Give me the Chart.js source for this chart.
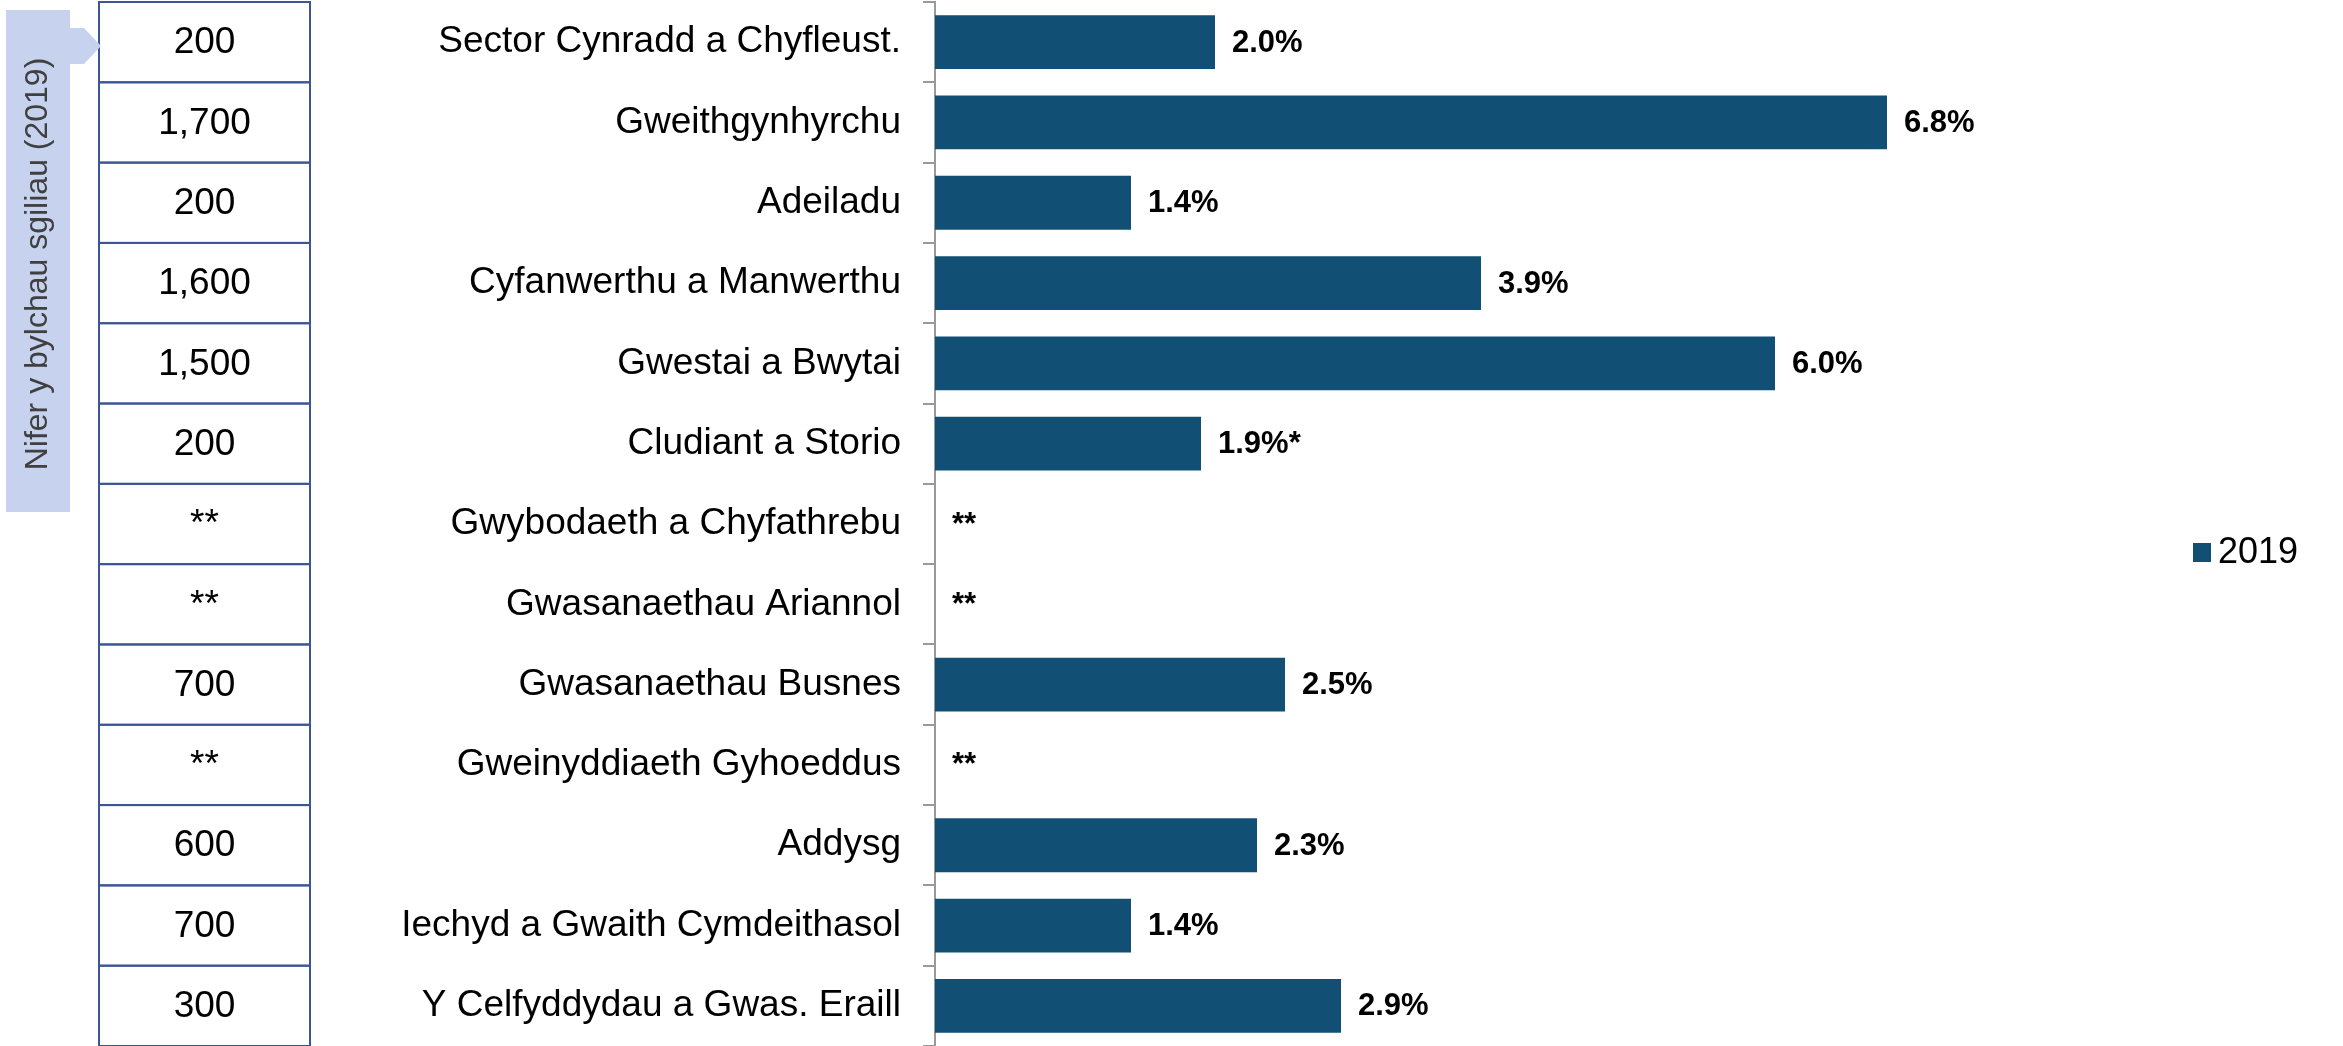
<!DOCTYPE html>
<html>
<head>
<meta charset="utf-8">
<script src="https://cdn.jsdelivr.net/npm/chart.js@4.4.1/dist/chart.umd.min.js"></script>
<style>
  html, body { margin: 0; padding: 0; background: #fff; }
  #wrap { width: 2343px; height: 1046px; position: relative; }
</style>
</head>
<body>
<div id="wrap"><canvas id="chart"></canvas></div>
<script>
const sectors = [
  'Sector Cynradd a Chyfleust.',
  'Gweithgynhyrchu',
  'Adeiladu',
  'Cyfanwerthu a Manwerthu',
  'Gwestai a Bwytai',
  'Cludiant a Storio',
  'Gwybodaeth a Chyfathrebu',
  'Gwasanaethau Ariannol',
  'Gwasanaethau Busnes',
  'Gweinyddiaeth Gyhoeddus',
  'Addysg',
  'Iechyd a Gwaith Cymdeithasol',
  'Y Celfyddydau a Gwas. Eraill'
];
// skills gap density (%), null = suppressed (**)
const gap2019 = [2.0, 6.8, 1.4, 3.9, 6.0, 1.9, null, null, 2.5, null, 2.3, 1.4, 2.9];
const gapLabels = ['2.0%', '6.8%', '1.4%', '3.9%', '6.0%', '1.9%*', '**', '**', '2.5%', '**', '2.3%', '1.4%', '2.9%'];
// number of skills gaps (2019) shown in the left table
const gapCounts = ['200', '1,700', '200', '1,600', '1,500', '200', '**', '**', '700', '**', '600', '700', '300'];
const seriesName = '2019';
const sideTitle = 'Nifer y bylchau sgiliau (2019)';

const FONT = "'Liberation Sans', Arial, sans-serif";
const BAR_COLOR = '#124f75';

// value labels at the end of each bar
const valueLabels = {
  id: 'valueLabels',
  afterDatasetsDraw(chart) {
    const ctx = chart.ctx;
    const xs = chart.scales.x, ys = chart.scales.y;
    ctx.save();
    ctx.font = 'bold 31px ' + FONT;
    ctx.fillStyle = '#000';
    ctx.textBaseline = 'middle';
    ctx.textAlign = 'left';
    gap2019.forEach((v, i) => {
      const x = xs.getPixelForValue(v === null ? 0 : v) + 17;
      ctx.fillText(gapLabels[i], x, ys.getPixelForValue(i) + 1);
    });
    ctx.restore();
  }
};

// side table with counts + rotated callout + legend
const sidePanel = {
  id: 'sidePanel',
  afterDraw(chart) {
    const ctx = chart.ctx;
    const ys = chart.scales.y;
    const half = (ys.getPixelForValue(1) - ys.getPixelForValue(0)) / 2;
    const left = 99, right = 310;
    ctx.save();

    // table cells
    ctx.strokeStyle = '#3d5596';
    ctx.lineWidth = 2;
    ctx.font = '37px ' + FONT;
    ctx.fillStyle = '#000';
    ctx.textAlign = 'center';
    ctx.textBaseline = 'middle';
    gapCounts.forEach((t, i) => {
      const c = ys.getPixelForValue(i);
      ctx.strokeRect(left, c - half, right - left, half * 2);
      ctx.fillText(t, (left + right) / 2, c + 1);
    });

    // rotated callout
    ctx.fillStyle = '#c7d2ee';
    ctx.fillRect(6, 10, 64, 502);
    ctx.beginPath();
    ctx.moveTo(68, 28);
    ctx.lineTo(84, 28);
    ctx.lineTo(101, 46);
    ctx.lineTo(84, 64);
    ctx.lineTo(68, 64);
    ctx.closePath();
    ctx.fill();
    ctx.translate(38, 264);
    ctx.rotate(-Math.PI / 2);
    ctx.fillStyle = '#404040';
    ctx.font = '32px ' + FONT;
    ctx.fillText(sideTitle, 0, 0);
    ctx.setTransform(1, 0, 0, 1, 0, 0);

    // legend
    ctx.fillStyle = BAR_COLOR;
    ctx.fillRect(2193, 543, 18, 19);
    ctx.fillStyle = '#000';
    ctx.font = '36px ' + FONT;
    ctx.textAlign = 'left';
    ctx.fillText(chart.data.datasets[0].label, 2218, 553);
    ctx.restore();
  }
};

new Chart(document.getElementById('chart'), {
  type: 'bar',
  data: {
    labels: sectors,
    datasets: [{
      label: seriesName,
      data: gap2019,
      backgroundColor: BAR_COLOR,
      borderWidth: 0,
      barPercentage: 0.67,
      categoryPercentage: 1
    }]
  },
  options: {
    indexAxis: 'y',
    responsive: true,
    maintainAspectRatio: false,
    animation: false,
    layout: { padding: { top: 2, right: 288, bottom: 0, left: 0 } },
    plugins: {
      legend: { display: false },
      tooltip: { enabled: false }
    },
    scales: {
      x: {
        display: false,
        min: 0,
        max: 8
      },
      y: {
        offset: true,
        afterFit(scale) {
          scale.width = 935;
          scale.paddingTop = 0;
          scale.paddingBottom = 0;
        },
        grid: {
          offset: true,
          drawOnChartArea: false,
          drawTicks: true,
          tickLength: 12,
          color: '#999999',
          lineWidth: 2
        },
        border: { display: true, color: '#999999', width: 2 },
        ticks: {
          color: '#000',
          padding: 22,
          font: { family: FONT, size: 37 }
        }
      }
    }
  },
  plugins: [valueLabels, sidePanel]
});
</script>
</body>
</html>
